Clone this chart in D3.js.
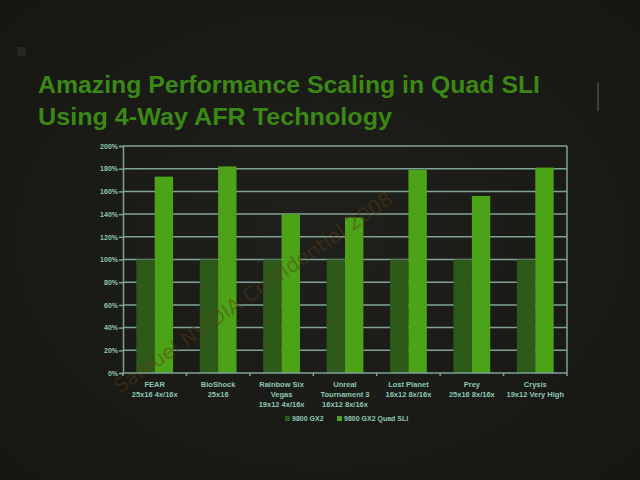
<!DOCTYPE html>
<html>
<head>
  <meta charset="UTF-8">
  <style>
    body { margin: 0; background: #1b1b17; }
    svg { display: block; }
  </style>
</head>
<body>
<svg></svg>
<script src="https://d3js.org/d3.v7.min.js"></script>
<script>

let width = 640, height = 480;

// data
const games = ["FEAR", "BioShock", "Rainbow Six", "Unreal", "Lost Planet", "Prey", "Crysis"];
const gameLabels = [
  ["FEAR", "25x16 4x/16x"],
  ["BioShock", "25x16"],
  ["Rainbow Six", "Vegas", "19x12 4x/16x"],
  ["Unreal", "Tournament 3", "16x12 8x/16x"],
  ["Lost Planet", "16x12 8x/16x"],
  ["Prey", "25x16 8x/16x"],
  ["Crysis", "19x12 Very High"]
];
const series = ["9800 GX2", "9800 GX2 Quad SLI"];
const gx2 = [100, 100, 100, 100, 100, 100, 100];
const quadSli = [173, 182, 140, 137, 179, 156, 181];
const yTicks = [0, 20, 40, 60, 80, 100, 120, 140, 160, 180, 200];

let colors = ["#2d5a19", "#4da318"];
let gridColor = "#7fa398";
let textColor = "#8ec7b4";

let svg = d3.select("svg")
    .attr("width", width)
    .attr("height", height);

// slightly vignetted background
let defs = svg.append("defs");
let grad = defs.append("radialGradient").attr("id", "bg").attr("cx", "50%").attr("cy", "50%").attr("r", "70%");
grad.append("stop").attr("offset", "0%").attr("stop-color", "#1f1f1b");
grad.append("stop").attr("offset", "100%").attr("stop-color", "#161613");
svg.append("rect").attr("width", width).attr("height", height).attr("fill", "url(#bg)");

// small marks on the projected slide
svg.append("rect").attr("x", 17).attr("y", 47).attr("width", 9).attr("height", 9).attr("fill", "#26261f");
svg.append("line").attr("x1", 598).attr("x2", 598).attr("y1", 83).attr("y2", 111)
    .attr("stroke", "#4d4d47").attr("stroke-width", 1.5);

// title
let title = svg.append("g").attr("fill", "#3b8815")
    .style("font-family", "Liberation Sans, Arial, sans-serif")
    .style("font-weight", "bold")
    .style("font-size", "24px");
title.append("text").attr("x", 38).attr("y", 93).attr("textLength", 502).attr("lengthAdjust", "spacingAndGlyphs")
    .text("Amazing Performance Scaling in Quad SLI");
title.append("text").attr("x", 38).attr("y", 125).attr("textLength", 354).attr("lengthAdjust", "spacingAndGlyphs")
    .text("Using 4-Way AFR Technology");

let margin = { left: 123, right: 567, top: 146, bottom: 373 };

let x0 = d3.scaleBand().domain(games).range([margin.left, margin.right]).paddingInner(0.42).paddingOuter(0.21);
let x1 = d3.scaleBand().domain(series).range([0, x0.bandwidth()]);
let y = d3.scaleLinear().domain([0, 200]).range([margin.bottom, margin.top]);

// grid lines and frame
svg.append("g")
    .selectAll("line")
    .data(yTicks.slice(1))
    .enter()
    .append("line")
    .attr("x1", margin.left).attr("x2", margin.right)
    .attr("y1", d => y(d)).attr("y2", d => y(d))
    .attr("stroke", gridColor).attr("stroke-width", 1.5);

svg.append("line")
    .attr("x1", margin.right).attr("x2", margin.right)
    .attr("y1", margin.top).attr("y2", margin.bottom)
    .attr("stroke", gridColor).attr("stroke-width", 1.5);

// bars
let groups = svg.append("g")
    .selectAll("g")
    .data(games)
    .enter()
    .append("g")
    .attr("transform", d => "translate(" + x0(d) + ",0)");

groups.selectAll("rect")
    .data((d, i) => [{ s: series[0], v: gx2[i] }, { s: series[1], v: quadSli[i] }])
    .enter()
    .append("rect")
    .attr("x", d => x1(d.s))
    .attr("width", x1.bandwidth())
    .attr("y", d => y(d.v))
    .attr("height", d => y(0) - y(d.v))
    .attr("fill", (d, i) => colors[i]);

// watermark, barely visible
svg.append("text")
    .attr("transform", "translate(120,394) rotate(-35)")
    .attr("fill", "#5a3c12").attr("opacity", 0.45)
    .style("font-family", "DejaVu Sans, sans-serif")
    .style("font-size", "20px")
    .text("Samuel  NVIDIA Confidential  2008");

// y axis
let yAxis = d3.axisLeft(y)
    .tickValues(yTicks)
    .tickFormat(d => d + "%")
    .tickSize(4);

let ya = svg.append("g")
    .attr("transform", "translate(" + margin.left + ",0)")
    .call(yAxis);
ya.select(".domain").attr("stroke", gridColor).attr("stroke-width", 1.5);
ya.selectAll(".tick line").attr("stroke", gridColor).attr("stroke-width", 1.5);
ya.selectAll("text")
    .attr("fill", textColor)
    .attr("x", -5)
    .style("font-family", "Liberation Sans, Arial, sans-serif")
    .style("font-size", "7px")
    .style("font-weight", "bold");

// x axis with ticks between categories
let xa = svg.append("g").attr("transform", "translate(0," + margin.bottom + ")");
xa.append("line").attr("x1", margin.left).attr("x2", margin.right)
    .attr("stroke", gridColor).attr("stroke-width", 1.5);
let step = x0.step();
xa.selectAll(".sep")
    .data(d3.range(games.length + 1))
    .enter()
    .append("line")
    .attr("x1", i => margin.left + i * step).attr("x2", i => margin.left + i * step)
    .attr("y1", 0).attr("y2", 3)
    .attr("stroke", gridColor).attr("stroke-width", 1.5);

let labels = svg.append("g")
    .style("font-family", "Liberation Sans, Arial, sans-serif")
    .style("font-size", "7.5px")
    .style("font-weight", "bold")
    .attr("fill", textColor)
    .attr("text-anchor", "middle");

labels.selectAll("text")
    .data(games)
    .enter()
    .append("text")
    .attr("x", d => x0(d) + x0.bandwidth() / 2)
    .attr("y", 387)
    .each(function(d, i) {
        d3.select(this).selectAll("tspan")
            .data(gameLabels[i])
            .enter()
            .append("tspan")
            .attr("x", x0(d) + x0.bandwidth() / 2)
            .attr("dy", (t, j) => j == 0 ? 0 : 10)
            .text(t => t);
    });

// legend
let legend = svg.append("g")
    .attr("transform", "translate(285,421)")
    .style("font-family", "Liberation Sans, Arial, sans-serif")
    .style("font-size", "7px")
    .style("font-weight", "bold");
let lx = [0, 52];
legend.selectAll("rect")
    .data(series)
    .enter()
    .append("rect")
    .attr("x", (d, i) => lx[i])
    .attr("y", -5)
    .attr("width", 5).attr("height", 5)
    .attr("fill", (d, i) => colors[i]);
legend.selectAll("text")
    .data(series)
    .enter()
    .append("text")
    .attr("x", (d, i) => lx[i] + 7)
    .attr("y", 0)
    .attr("fill", textColor)
    .text(d => d);

</script>
</body>
</html>
